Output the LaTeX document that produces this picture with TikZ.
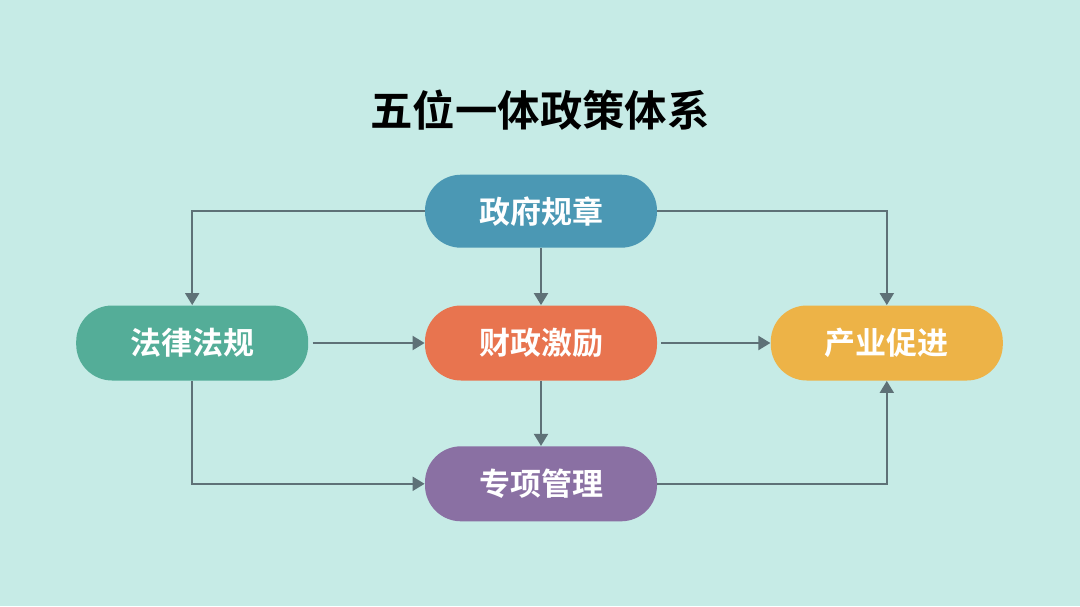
\documentclass[tikz,border=0pt]{standalone}
\usepackage{fontspec}
\usepackage{xcolor}
\usepackage{tikz}
\usetikzlibrary{arrows.meta, positioning, calc}
\newfontfamily\cjk{Noto Sans CJK SC}[BoldFont={Noto Sans CJK SC Bold}]

\definecolor{bgteal}{HTML}{C6EBE6}
\definecolor{govblue}{HTML}{4B98B4}
\definecolor{lawgreen}{HTML}{54AD98}
\definecolor{finred}{HTML}{E8744F}
\definecolor{indyellow}{HTML}{EDB347}
\definecolor{specpurple}{HTML}{8A70A3}
\definecolor{linegray}{HTML}{5E7177}

\begin{document}
\begin{tikzpicture}[
    box/.style={rounded corners=18pt, align=center, text=white, minimum width=116pt, minimum height=37.5pt, font=\cjk\bfseries\fontsize{15.5pt}{18pt}\selectfont},
    conn/.style={draw=linegray, line width=1pt, -{Triangle[length=6pt,width=7pt]}}
]
    % Background
    \fill[bgteal] (0,0) rectangle (540pt,-303pt);

    % Title
    \node[font=\cjk\bfseries\fontsize{21.2pt}{25pt}\selectfont] (title) at (270pt,-55pt) {五位一体政策体系};

    % Centre row
    \node[box, fill=finred] (fin) at (270.5pt,-171.5pt) {财政激励};
    \node[box, fill=lawgreen, left=58pt of fin] (law) {法律法规};
    \node[box, fill=indyellow, right=56.5pt of fin] (ind) {产业促进};

    % Top and bottom
    \node[box, fill=govblue, minimum height=36.5pt, above=28.5pt of fin] (gov) {政府规章};
    \node[box, fill=specpurple, below=32.5pt of fin] (spec) {专项管理};

    % Connectors from government rules
    \draw[conn] (gov.west) -| (law.north);
    \draw[conn] (gov.east) -| (ind.north);
    \draw[conn] (gov.south) -- (fin.north);

    % Centre row connectors
    \draw[conn, shorten <=2pt] (law.east) -- (fin.west);
    \draw[conn, shorten <=2pt] (fin.east) -- (ind.west);
    \draw[conn] (fin.south) -- (spec.north);

    % Bottom connectors
    \draw[conn] (law.south) |- (spec.west);
    \draw[conn] (spec.east) -| (ind.south);

\end{tikzpicture}
\end{document}
